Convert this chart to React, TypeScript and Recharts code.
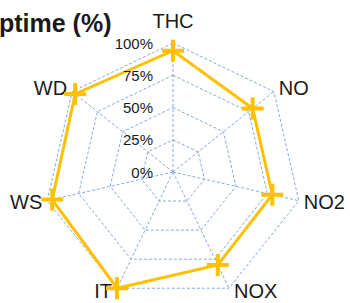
import React from 'react';
import { RadarChart, Radar, PolarGrid, PolarAngleAxis, PolarRadiusAxis } from 'recharts';

const categories = ['THC', 'NO', 'NO2', 'NOX', 'IT', 'WS', 'WD'];
const uptime = [94, 79, 79, 80, 100, 96, 97];
const radiusTicks = [0, 25, 50, 75, 100];
const titleText = 'ptime (%)';

const data = categories.map((c, i) => ({ category: c, uptime: uptime[i] }));

const W = 350;
const H = 303;
const CX = 173;
const CY = 172;
const R = 129;
const FONT = '"Liberation Sans", Arial, sans-serif';
const GRID = '#86A9DF';

function AngleTick(props: any) {
  const { x, y, payload } = props;
  const dx0 = x - CX;
  const dy0 = y - CY;
  const d = Math.hypot(dx0, dy0) || 1;
  const ux = dx0 / d;
  const uy = dy0 / d;
  const vx = CX + ux * R;
  const vy = CY + uy * R;
  let anchor: 'start' | 'end' | 'middle';
  let tx: number;
  let ty: number;
  if (Math.abs(ux) < 0.01) {
    anchor = 'middle';
    tx = vx;
    ty = uy < 0 ? vy - 22 : vy + 22;
  } else {
    anchor = ux > 0 ? 'start' : 'end';
    tx = vx + (ux > 0 ? 5 : -5);
    ty = vy + uy * (uy > 0.5 ? 3.5 : 6);
  }
  return (
    <text x={tx} y={ty} textAnchor={anchor} dominantBaseline="central" fontSize={20} fill="#1a1a1a" fontFamily={FONT}>
      {payload.value}
    </text>
  );
}

function RadiusTick(props: any) {
  const { y, payload } = props;
  return (
    <text x={CX - 20} y={y} textAnchor="end" dominantBaseline="central" fontSize={15} fill="#1a1a1a" fontFamily={FONT}>
      {`${payload.value}%`}
    </text>
  );
}

function PlusDot(props: any) {
  const { cx, cy } = props;
  if (cx == null || cy == null) return null;
  const s = 11;
  return (
    <path
      key={`dot-${cx}-${cy}`}
      d={`M${cx - s},${cy}H${cx + s}M${cx},${cy - s}V${cy + s}`}
      stroke="#FFC000"
      strokeWidth={4}
      fill="none"
    />
  );
}

export default function App() {
  return (
    <div style={{ position: 'absolute', left: 0, top: 0, width: W, height: H, background: '#fff', overflow: 'hidden' }}>
      <RadarChart width={W} height={H} cx={CX} cy={CY} outerRadius={R} data={data} margin={{ top: 0, right: 0, bottom: 0, left: 0 }}>
        <PolarGrid gridType="polygon" stroke={GRID} strokeDasharray="3 2" strokeWidth={1} />
        <PolarAngleAxis dataKey="category" tick={<AngleTick />} tickLine={false} axisLine={false} />
        <PolarRadiusAxis
          angle={90}
          domain={[0, 100]}
          ticks={radiusTicks}
          tick={<RadiusTick />}
          axisLine={false}
          tickLine={false}
        />
        <Radar
          dataKey="uptime"
          stroke="#FFC000"
          strokeWidth={3}
          fill="none"
          fillOpacity={0}
          dot={PlusDot}
          isAnimationActive={false}
        />
      </RadarChart>
      <svg width={W} height={H} style={{ position: 'absolute', left: 0, top: 0, pointerEvents: 'none' }}>
        <text x={-1} y={32} fontSize={25} fontWeight="bold" fill="#1a1a1a" fontFamily={FONT}>
          {titleText}
        </text>
      </svg>
    </div>
  );
}
